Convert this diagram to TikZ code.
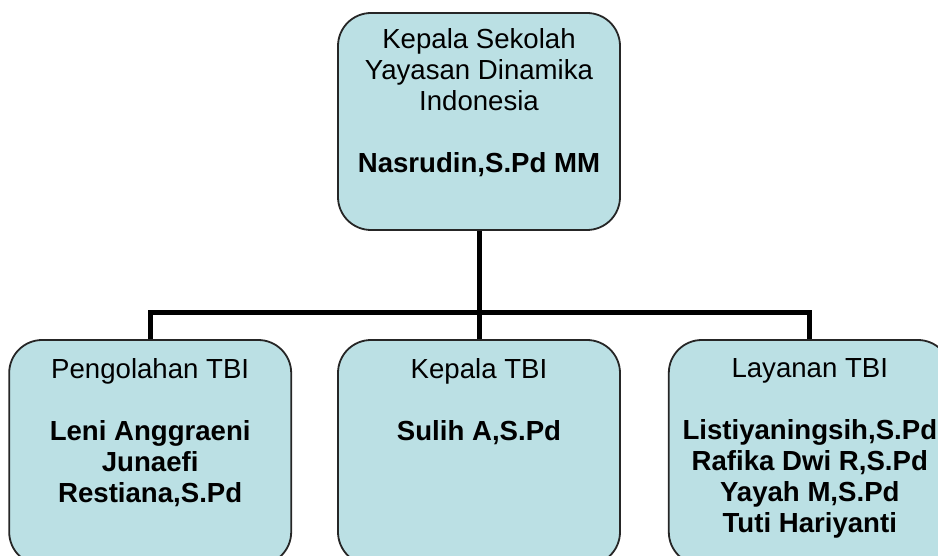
\documentclass[tikz,border=0pt]{standalone}
\usepackage{fontspec}
\setmainfont{Liberation Sans}
\usetikzlibrary{positioning}
\definecolor{boxblue}{RGB}{187,224,228}
\begin{document}
\begin{tikzpicture}[x=1pt,y=-1pt,
    unit/.style={draw=black!85,line width=1.8pt,fill=boxblue,rounded corners=33pt,
      minimum width=282pt,minimum height=217pt,inner sep=0pt},
    txt/.style={anchor=north,align=center,inner sep=0pt,
      font=\fontsize{27.6}{31}\selectfont,execute at begin node=\strut},
    conn/.style={line width=5pt,line join=miter}]
  \useasboundingbox (0,0) rectangle (938,556);

  % boxes
  \node[unit] (head) at (479,121.5) {};
  \node[unit,minimum height=225pt] (kepala) at (479,452.5) {};
  \node[unit,minimum height=225pt,left=45pt of kepala] (pengolahan) {};
  \node[unit,minimum height=225pt,right=47pt of kepala] (layanan) {};

  % connectors
  \coordinate (bus) at (479,313);
  \draw[conn] (head.south) -- (kepala.north);
  \draw[conn] (pengolahan.north) |- (bus) -| (layanan.north);

  % texts
  \node[txt] (headtxt) at ([yshift=-16.5pt]head.north)
    {Kepala Sekolah\\Yayasan Dinamika\\Indonesia\\[31pt]\textbf{Nasrudin,S.Pd MM}};
  \node[txt] (pengolahantxt) at ([yshift=-19pt]pengolahan.north)
    {Pengolahan TBI\\[31pt]\textbf{Leni Anggraeni}\\\textbf{Junaefi}\\\textbf{Restiana,S.Pd}};
  \node[txt] (kepalatxt) at ([yshift=-19pt]kepala.north)
    {Kepala TBI\\[31pt]\textbf{Sulih A,S.Pd}};
  \node[txt] (layanantxt) at ([yshift=-19pt]layanan.north)
    {Layanan TBI\\[31pt]\textbf{Listiyaningsih,S.Pd}\\\textbf{Rafika Dwi R,S.Pd}\\
     \textbf{Yayah M,S.Pd}\\\textbf{Tuti Hariyanti}};
\end{tikzpicture}
\end{document}
